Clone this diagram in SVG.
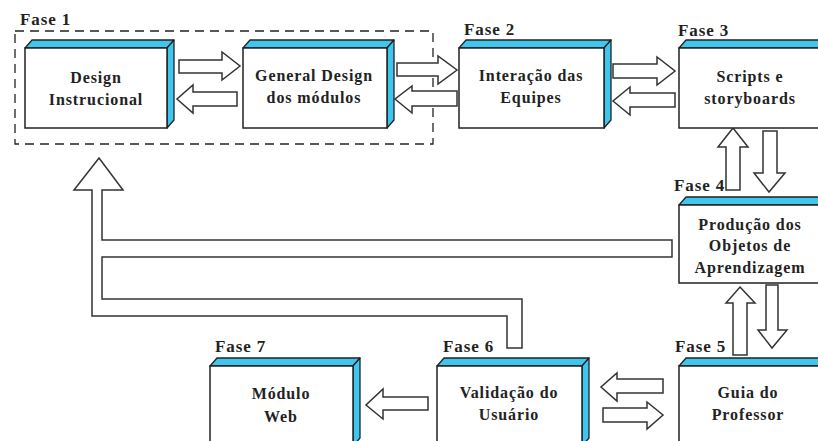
<svg xmlns="http://www.w3.org/2000/svg" width="818" height="441" viewBox="0 0 818 441">
<style>
.front{fill:#fff;stroke:#222;stroke-width:1.5}
.bevel{fill:#3ec6ee;stroke:#222;stroke-width:1.3;stroke-linejoin:round}
.arrow{fill:#fff;stroke:#333;stroke-width:1.5;stroke-linejoin:miter}
.lbl{font-family:"Liberation Serif","Times New Roman",serif;font-weight:bold;font-size:16px;letter-spacing:0.9px;fill:#222;text-anchor:middle}
.fase{font-family:"Liberation Serif","Times New Roman",serif;font-weight:bold;font-size:17px;letter-spacing:0.9px;fill:#222}
.dash{fill:none;stroke:#222;stroke-width:1.3;stroke-dasharray:9 6}
</style>
<rect class="dash" x="15" y="31" width="418" height="113"/>
<text class="fase" x="20" y="25">Fase 1</text>

<g id="connectors">
<polygon class="arrow" points="99,158 123,190 102,190 102,240 672,240 672,257 102,257 102,299 522,299 522,348 507,348 507,316 92,316 92,190 74,190"/>
<polygon class="arrow" points="179,60 222,60 222,52 240,66 222,80 222,73 179,73"/>
<polygon class="arrow" points="237,92 193,92 193,85 177,99 193,113 193,106 237,106"/>
<polygon class="arrow" points="397,63 438,63 438,56 457,70 438,84 438,76 397,76"/>
<polygon class="arrow" points="457,91 412,91 412,86 395,99 412,113 412,106 457,106"/>
<polygon class="arrow" points="613,64 657,64 657,57 675,71 657,85 657,78 613,78"/>
<polygon class="arrow" points="675,93 630,93 630,87 613,101 630,115 630,107 675,107"/>
<polygon class="arrow" points="733,128 748,147 740,147 740,190 726,190 726,147 718,147"/>
<polygon class="arrow" points="763,131 777,131 777,173 785,173 769,192 754,173 763,173"/>
<polygon class="arrow" points="740,287 755,303 747,303 747,355 733,355 733,303 726,303"/>
<polygon class="arrow" points="766,285 778,285 778,330 787,330 772,348 758,330 766,330"/>
<polygon class="arrow" points="663,379 617,379 617,373 601,387 617,401 617,393 663,393"/>
<polygon class="arrow" points="603,408 647,408 647,402 663,415 647,429 647,422 603,422"/>
<polygon class="arrow" points="428,397 383,397 383,389 366,405 383,419 383,410 428,410"/>
</g>

<g id="design-instrucional">
<polygon class="bevel" points="25,48 32,40 174,40 167,48"/>
<polygon class="bevel" points="167,48 174,40 174,120 167,128"/>
<rect class="front" x="25" y="48" width="142" height="80"/>
<text class="lbl" x="96" y="83">Design</text>
<text class="lbl" x="96" y="105">Instrucional</text>
</g>

<g id="general-design">
<polygon class="bevel" points="243,48 250,40 394,40 387,48"/>
<polygon class="bevel" points="387,48 394,40 394,120 387,128"/>
<rect class="front" x="243" y="48" width="144" height="80"/>
<text class="lbl" x="314" y="81">General Design</text>
<text class="lbl" x="314" y="103">dos módulos</text>
</g>

<g id="interacao">
<text class="fase" x="464" y="35">Fase 2</text>
<polygon class="bevel" points="459,48 466,40 611,40 604,48"/>
<polygon class="bevel" points="604,48 611,40 611,120 604,128"/>
<rect class="front" x="459" y="48" width="145" height="80"/>
<text class="lbl" x="531" y="81">Interação das</text>
<text class="lbl" x="531" y="103">Equipes</text>
</g>

<g id="scripts">
<text class="fase" x="678" y="36">Fase 3</text>
<polygon class="bevel" points="679,48 686,40 829,40 822,48"/>
<rect class="front" x="679" y="48" width="143" height="80"/>
<text class="lbl" x="750" y="82">Scripts e</text>
<text class="lbl" x="750" y="104">storyboards</text>
</g>

<g id="producao">
<text class="fase" x="674" y="191">Fase 4</text>
<polygon class="bevel" points="679,205 686,197 829,197 822,205"/>
<rect class="front" x="679" y="205" width="143" height="78"/>
<text class="lbl" x="750" y="230">Produção dos</text>
<text class="lbl" x="750" y="251">Objetos de</text>
<text class="lbl" x="750" y="273">Aprendizagem</text>
</g>

<g id="guia">
<text class="fase" x="675" y="352">Fase 5</text>
<polygon class="bevel" points="679,366 686,358 829,358 822,366"/>
<rect class="front" x="679" y="366" width="143" height="80"/>
<text class="lbl" x="748" y="398">Guia do</text>
<text class="lbl" x="748" y="420">Professor</text>
</g>

<g id="validacao">
<text class="fase" x="443" y="352">Fase 6</text>
<polygon class="bevel" points="437,366 444,358 589,358 582,366"/>
<polygon class="bevel" points="582,366 589,358 589,438 582,446"/>
<rect class="front" x="437" y="366" width="145" height="80"/>
<text class="lbl" x="509" y="398">Validação do</text>
<text class="lbl" x="509" y="420">Usuário</text>
</g>

<g id="modulo-web">
<text class="fase" x="215" y="352">Fase 7</text>
<polygon class="bevel" points="210,366 217,358 360,358 353,366"/>
<polygon class="bevel" points="353,366 360,358 360,438 353,446"/>
<rect class="front" x="210" y="366" width="143" height="80"/>
<text class="lbl" x="281" y="399">Módulo</text>
<text class="lbl" x="281" y="422">Web</text>
</g>
</svg>
